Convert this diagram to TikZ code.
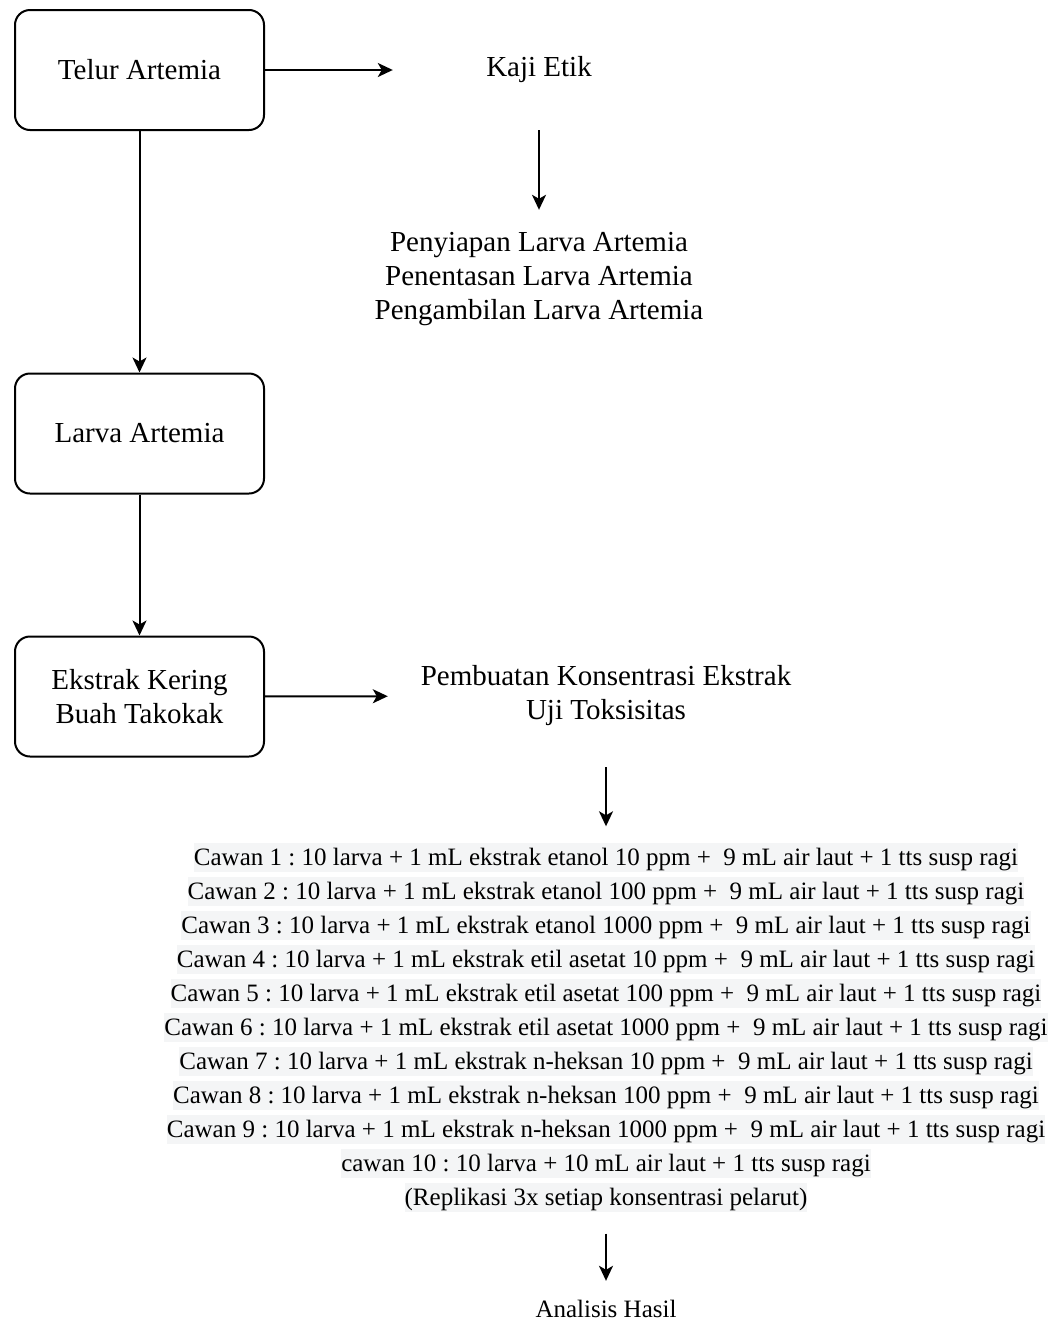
\documentclass[tikz,border=0pt]{standalone}
\usepackage{fontspec}
\setmainfont{Liberation Serif}
\usetikzlibrary{arrows.meta}
\definecolor{hl}{RGB}{244,245,246}
\newcommand{\hlline}[1]{\colorbox{hl}{\rule[-6pt]{0pt}{29pt}#1}}
\begin{document}
\frenchspacing
\begin{tikzpicture}[x=1pt,y=-1pt,
  font=\fontsize{29}{34}\selectfont,
  procbox/.style={draw, line width=2pt, rounded corners=15pt, minimum width=249pt, minimum height=120pt, align=center, inner sep=0pt},
  plain/.style={align=center, inner sep=0pt},
  smalltext/.style={font=\fontsize{25}{34}\selectfont},
  conn/.style={line width=2pt, -{Stealth[length=15pt,width=14pt,inset=4pt]}}]
\useasboundingbox (0,0) rectangle (1051,1323);
\fill[white] (0,0) rectangle (1051,1323);
\setlength{\fboxsep}{0pt}
\node[procbox] (telur) at (139.5,70) {Telur Artemia};
\node[procbox] (larva) at (139.5,433.5) {Larva Artemia};
\node[procbox] (ekstrak) at (139.5,696.5) {Ekstrak Kering\\Buah Takokak};
\node[plain, minimum width=292pt, minimum height=120pt] (kaji) at (539,70) {Kaji Etik};
\node[plain, minimum height=138pt] (pen) at (539,279) {Penyiapan Larva Artemia\\Penentasan Larva Artemia\\Pengambilan Larva Artemia};
\node[plain, minimum width=436pt, minimum height=142pt] (pemb) at (606,696) {Pembuatan Konsentrasi Ekstrak\\Uji Toksisitas};
\node[plain, smalltext] (cawan) at (606,1027) {%
\hlline{Cawan 1 : 10 larva + 1 mL ekstrak etanol 10 ppm +\ \ 9 mL air laut + 1 tts susp ragi}\\
\hlline{Cawan 2 : 10 larva + 1 mL ekstrak etanol 100 ppm +\ \ 9 mL air laut + 1 tts susp ragi}\\
\hlline{Cawan 3 : 10 larva + 1 mL ekstrak etanol 1000 ppm +\ \ 9 mL air laut + 1 tts susp ragi}\\
\hlline{Cawan 4 : 10 larva + 1 mL ekstrak etil asetat 10 ppm +\ \ 9 mL air laut + 1 tts susp ragi}\\
\hlline{Cawan 5 : 10 larva + 1 mL ekstrak etil asetat 100 ppm +\ \ 9 mL air laut + 1 tts susp ragi}\\
\hlline{Cawan 6 : 10 larva + 1 mL ekstrak etil asetat 1000 ppm +\ \ 9 mL air laut + 1 tts susp ragi}\\
\hlline{Cawan 7 : 10 larva + 1 mL ekstrak n-heksan 10 ppm +\ \ 9 mL air laut + 1 tts susp ragi}\\
\hlline{Cawan 8 : 10 larva + 1 mL ekstrak n-heksan 100 ppm +\ \ 9 mL air laut + 1 tts susp ragi}\\
\hlline{Cawan 9 : 10 larva + 1 mL ekstrak n-heksan 1000 ppm +\ \ 9 mL air laut + 1 tts susp ragi}\\
\hlline{cawan 10 : 10 larva + 10 mL air laut + 1 tts susp ragi}\\
\hlline{(Replikasi 3x setiap konsentrasi pelarut)}};
\node[plain, smalltext, minimum height=56pt] (hasil) at (606,1309) {Analisis Hasil};
\draw[conn] (telur) -- (kaji);
\draw[conn] (kaji) -- (pen);
\draw[conn] (telur) -- (larva);
\draw[conn] (larva) -- (ekstrak);
\draw[conn] (ekstrak) -- (pemb);
\draw[conn, shorten >=16pt] (pemb.south -| cawan.north) -- (cawan.north);
\draw[conn, shorten <=22pt] (cawan.south) -- (hasil);
\end{tikzpicture}
\end{document}
